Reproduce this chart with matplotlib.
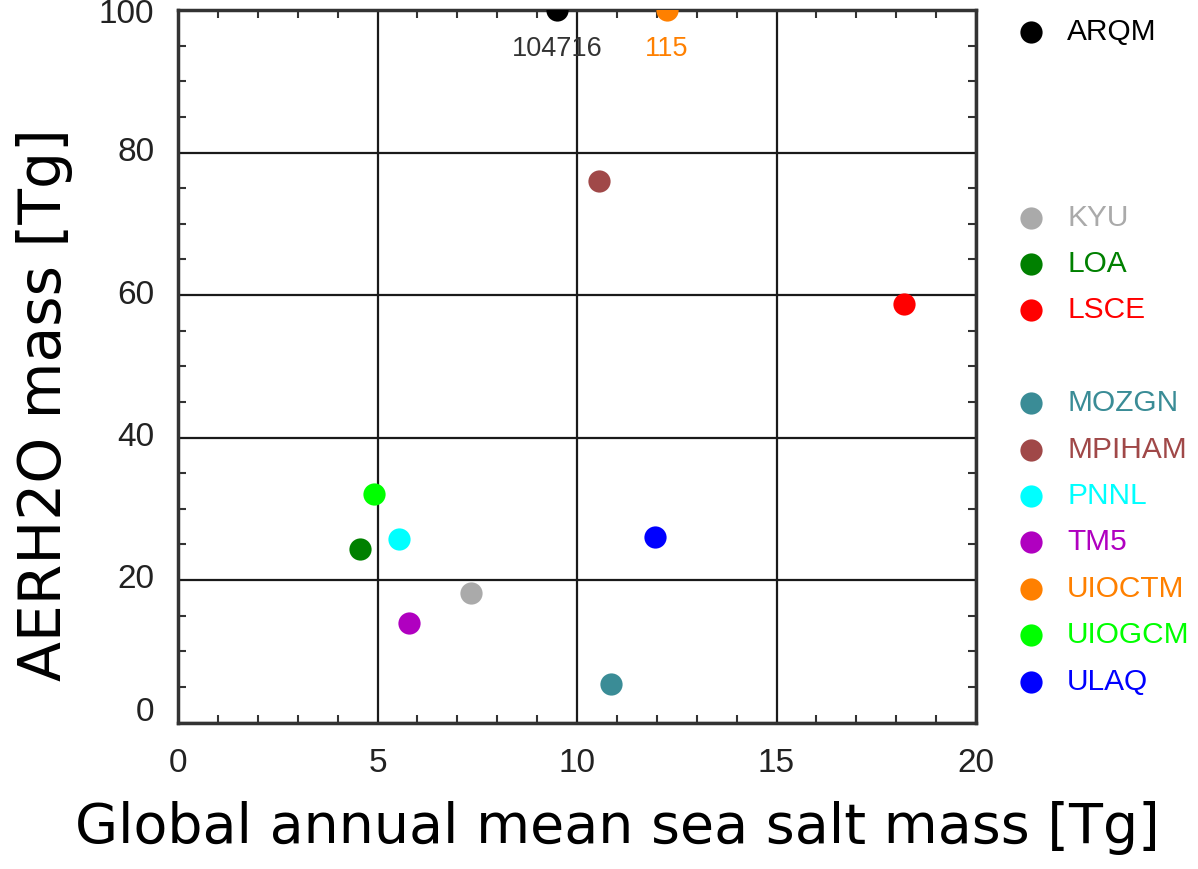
import numpy as np
import matplotlib
matplotlib.use('Agg')
import matplotlib.pyplot as plt
from matplotlib.ticker import MultipleLocator

# model results: global annual mean sea salt mass vs aerosol water mass [Tg]
models  = ['ARQM', 'KYU', 'LOA', 'LSCE', 'MOZGN', 'MPIHAM', 'PNNL', 'TM5', 'UIOCTM', 'UIOGCM', 'ULAQ']
seasalt = [9.5, 7.35, 4.55, 18.2, 10.85, 10.55, 5.55, 5.8, 12.25, 4.9, 11.95]
aerh2o  = [104716, 18.2, 24.4, 58.7, 5.4, 76.0, 25.8, 14.0, 115, 32.1, 26.0]
colors  = ['#000000', '#aaaaaa', '#008000', '#ff0000', '#3a8c96', '#a04848',
           '#00ffff', '#b000c0', '#ff8000', '#00ff00', '#0000ff']
# legend slot of each model (gaps between groups)
slots   = [0, 4, 5, 6, 8, 9, 10, 11, 12, 13, 14]
yticks  = [0, 20, 40, 60, 80, 100]

ymax = 100.
tickfont = 'Liberation Sans'

fig = plt.figure(figsize=(11.98, 8.69), dpi=100)
ax = fig.add_axes([178/1198., 1-722.5/869., 798/1198., 712.5/869.])

for i in range(len(models)):
    y = min(aerh2o[i], ymax)
    ax.plot(seasalt[i], y, 'o', color=colors[i], markersize=16, markeredgewidth=0,
            clip_on=True, zorder=5)
    if aerh2o[i] > ymax:
        # out of range: print the true value under the clipped marker
        ax.annotate('%d' % aerh2o[i], (seasalt[i], ymax), xytext=(0, -28),
                    textcoords='offset points', ha='center', va='center',
                    fontsize=19.5, family=tickfont,
                    color=('#333333' if colors[i] == '#000000' else colors[i]))

ax.set_xlim(0, 20)
ax.set_ylim(0, ymax)
ax.xaxis.set_major_locator(MultipleLocator(5))
ax.xaxis.set_minor_locator(MultipleLocator(1))
ax.set_yticks(yticks)
ax.yaxis.set_minor_locator(MultipleLocator(5))
ax.grid(True, which='major', color='#1a1a1a', linewidth=1.6)
ax.set_axisbelow(True)
ax.tick_params(which='both', direction='in', top=True, right=True, color='#333333')
ax.tick_params(which='major', length=0, width=1.5)
ax.tick_params(which='minor', length=6, width=1.5)
ax.tick_params(axis='x', which='major', pad=18, labelsize=24, labelcolor='#222222')
ax.tick_params(axis='y', labelleft=False)
for lab in ax.get_xticklabels():
    lab.set_family(tickfont)
for sp in ax.spines.values():
    sp.set_linewidth(2.5)
    sp.set_color('#333333')

# y tick labels by hand, end labels nudged inside the axis range
for v in yticks:
    dy = 0
    if v == yticks[0]:
        dy = 7
    elif v == yticks[-1]:
        dy = -3
    ax.annotate('%d' % v, (0, v), xycoords=('axes fraction', 'data'),
                xytext=(-17, dy), textcoords='offset points', ha='right', va='center',
                fontsize=24, family=tickfont, color='#222222', annotation_clip=False)

fig.text(617/1198., 1-828/869., 'Global annual mean sea salt mass [Tg]',
         ha='center', va='center', fontsize=40, family='DejaVu Sans')
fig.text(45/1198., 1-405/869., 'AERH2O mass [Tg]', rotation=90,
         ha='center', va='center', fontsize=42, family='DejaVu Sans')

# legend column on the right
lax = fig.add_axes([0, 0, 1, 1], facecolor='none')
lax.set_xlim(0, 1198)
lax.set_ylim(869, 0)
lax.axis('off')
for i in range(len(models)):
    ypos = 32 + 46.4 * slots[i]
    lax.plot(1031, ypos, 'o', color=colors[i], markersize=16, markeredgewidth=0)
    lax.text(1067, ypos, models[i], color=colors[i], fontsize=21.5,
             family=tickfont, va='center', ha='left')

fig.savefig('out.png', dpi=100)
